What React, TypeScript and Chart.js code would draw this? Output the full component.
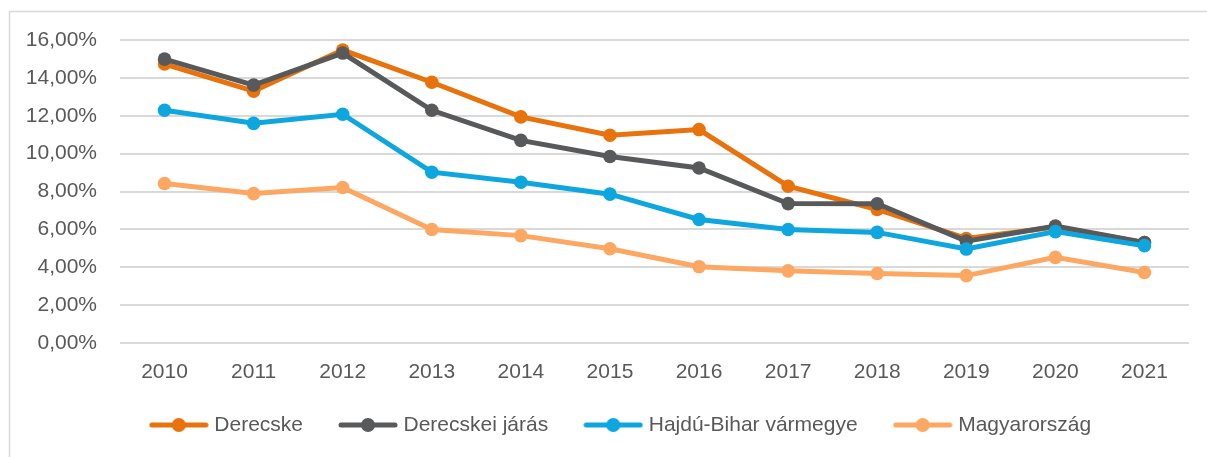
import React, { useEffect, useRef } from "react";
import { Chart, registerables } from "chart.js";

Chart.register(...registerables);

const years = ["2010", "2011", "2012", "2013", "2014", "2015", "2016", "2017", "2018", "2019", "2020", "2021"];
const derecske = [14.73, 13.3, 15.47, 13.77, 11.94, 10.97, 11.27, 8.28, 7.05, 5.52, 6.12, 5.3];
const derecskeiJaras = [14.99, 13.62, 15.31, 12.29, 10.7, 9.85, 9.24, 7.36, 7.35, 5.38, 6.18, 5.31];
const hajduBihar = [12.29, 11.6, 12.08, 9.02, 8.49, 7.86, 6.52, 5.99, 5.84, 4.96, 5.88, 5.14];
const magyarorszag = [8.42, 7.89, 8.21, 5.99, 5.67, 4.98, 4.03, 3.81, 3.67, 3.56, 4.52, 3.72];
const yTicks = [0, 2, 4, 6, 8, 10, 12, 14, 16];

const seriesNames = ["Derecske", "Derecskei járás", "Hajdú-Bihar vármegye", "Magyarország"];
const seriesColors = ["#E8720C", "#58595B", "#0DA6DF", "#FDA862"];
const seriesOrder = [3, 2, 1, 4];

const FONT = "'Liberation Sans', Arial, sans-serif";
const TEXT = "#595959";
const LEGEND_PAD = 40;

function legendIcon(color: string): HTMLCanvasElement {
  const c = document.createElement("canvas");
  c.width = 60;
  c.height = 16;
  const ctx = c.getContext("2d")!;
  ctx.strokeStyle = color;
  ctx.lineWidth = 5;
  ctx.lineCap = "round";
  ctx.beginPath();
  ctx.moveTo(3, 8);
  ctx.lineTo(57, 8);
  ctx.stroke();
  ctx.fillStyle = color;
  ctx.beginPath();
  ctx.arc(30, 8, 7, 0, Math.PI * 2);
  ctx.fill();
  return c;
}

export default function App() {
  const ref = useRef<HTMLCanvasElement | null>(null);
  useEffect(() => {
    if (!ref.current) return;
    const allData = [derecske, derecskeiJaras, hajduBihar, magyarorszag];
    const icons = seriesColors.map((c) => legendIcon(c));
    const framePlugin = {
      id: "frame",
      beforeDraw(chart: any) {
        const ctx = chart.ctx;
        ctx.save();
        ctx.fillStyle = "#ffffff";
        ctx.fillRect(0, 0, chart.width, chart.height);
        ctx.strokeStyle = "#D9D9D9";
        ctx.lineWidth = 1.5;
        ctx.beginPath();
        ctx.moveTo(9.5, chart.height);
        ctx.lineTo(9.5, 11.5);
        ctx.lineTo(chart.width, 11.5);
        ctx.stroke();
        ctx.restore();
      },
      afterLayout(chart: any) {
        const lg = chart.legend;
        if (lg) {
          lg.left += 28;
          lg.right += 28;
          const h = lg.bottom - lg.top;
          lg.top = 425 - LEGEND_PAD - 10.5;
          lg.bottom = lg.top + h;
        }
      },
    };
    const chart = new Chart(ref.current, {
      type: "line",
      data: {
        labels: years,
        datasets: allData.map((d, i) => ({
          label: seriesNames[i],
          data: d,
          borderColor: seriesColors[i],
          backgroundColor: seriesColors[i],
          pointBackgroundColor: seriesColors[i],
          pointBorderColor: seriesColors[i],
          pointBorderWidth: 0,
          pointRadius: 6.8,
          borderWidth: 5,
          tension: 0,
          order: seriesOrder[i],
        })),
      },
      options: {
        animation: false,
        responsive: false,
        maintainAspectRatio: false,
        layout: { padding: { top: 40, left: 0, right: 18, bottom: -16.2 } },
        plugins: {
          tooltip: { enabled: false },
          legend: {
            position: "bottom",
            labels: {
              usePointStyle: true,
              pointStyleWidth: 50,
              padding: LEGEND_PAD,
              color: TEXT,
              font: { family: FONT, size: 21 },
              generateLabels: () =>
                seriesNames.map((n, i) => ({
                  text: n,
                  fillStyle: seriesColors[i],
                  strokeStyle: seriesColors[i],
                  lineWidth: 0,
                  pointStyle: icons[i] as any,
                  datasetIndex: i,
                  hidden: false,
                  fontColor: TEXT,
                })),
            },
          },
        },
        scales: {
          x: {
            offset: true,
            grid: { display: false, drawTicks: false },
            border: { display: false },
            ticks: { color: TEXT, font: { family: FONT, size: 21 }, padding: 17, maxRotation: 0 },
          },
          y: {
            min: 0,
            max: 16,
            afterBuildTicks: (s: any) => {
              s.ticks = yTicks.map((v) => ({ value: v }));
            },
            grid: { color: "#D9D9D9", lineWidth: 2, drawTicks: false },
            border: { display: false },
            ticks: {
              color: TEXT,
              font: { family: FONT, size: 21 },
              padding: 23,
              callback: (v: any) => Number(v).toFixed(2).replace(".", ",") + "%",
            },
            afterFit: (s: any) => {
              s.width = 120;
            },
          },
        },
      },
      plugins: [framePlugin],
    });
    return () => chart.destroy();
  }, []);
  return (
    <div style={{ position: "fixed", left: 0, top: 0, width: 1207, height: 457, background: "#fff" }}>
      <canvas ref={ref} width={1207} height={457} style={{ width: 1207, height: 457, display: "block" }} />
    </div>
  );
}
